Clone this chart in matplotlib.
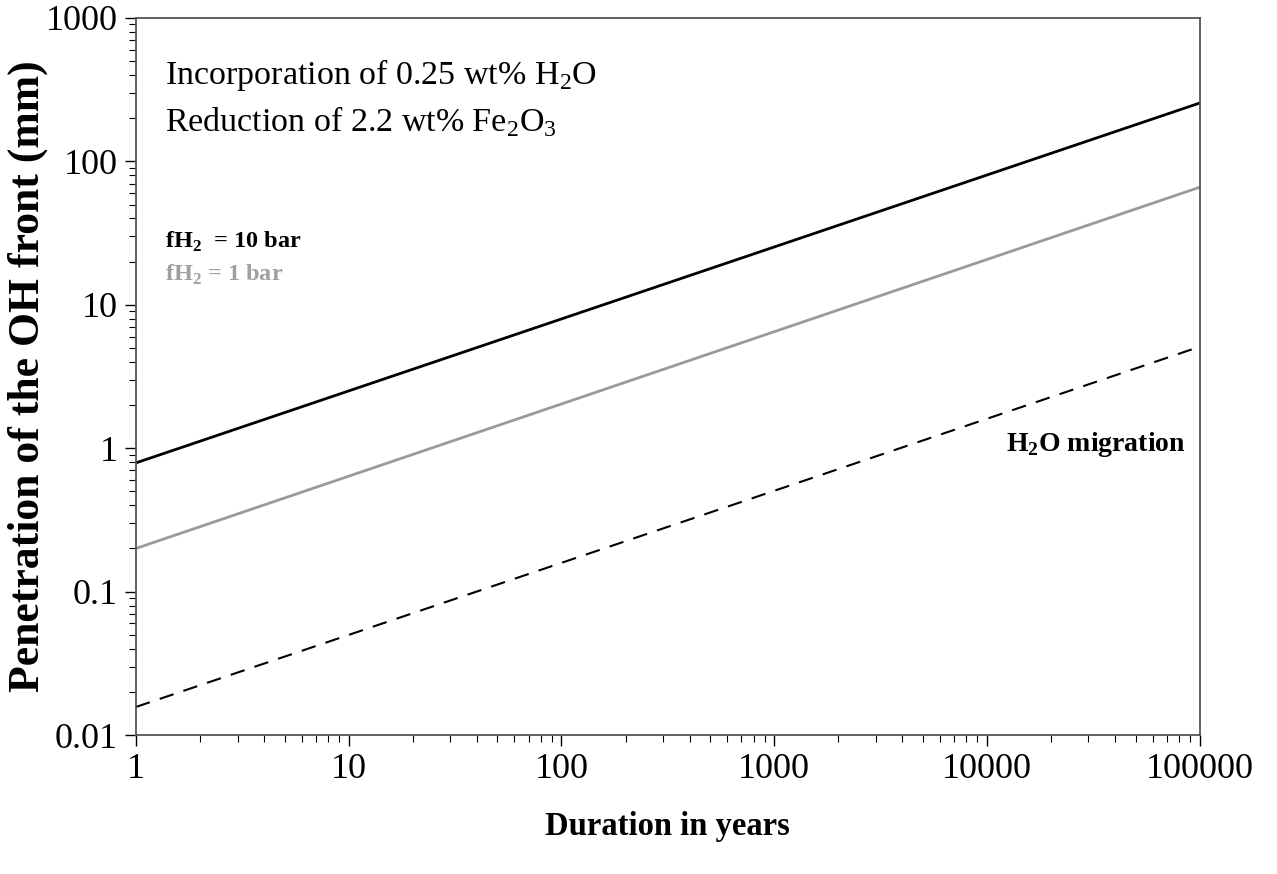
import matplotlib
matplotlib.use("Agg")
import matplotlib.pyplot as plt
from matplotlib.ticker import FixedLocator, FuncFormatter, LogLocator, NullFormatter

# penetration depth vs. time (mm), straight lines on log-log axes
years = [1, 100000]
fh2_10bar = [0.79, 255]
fh2_1bar = [0.20, 66]
h2o_migration = [0.0157, 5.1]

x_ticks = [1, 10, 100, 1000, 10000, 100000]
y_ticks = [0.01, 0.1, 1, 10, 100, 1000]

plt.rcParams['font.family'] = ['Liberation Serif', 'DejaVu Serif']
plt.rcParams['mathtext.fontset'] = 'custom'
plt.rcParams['mathtext.rm'] = 'Liberation Serif'
plt.rcParams['mathtext.bf'] = 'Liberation Serif:bold'

fig = plt.figure(figsize=(12.77, 8.74), dpi=100)
ax = fig.add_axes([0.1065, 0.159, 0.833, 0.8205])

ax.plot(years, fh2_10bar, color='black', lw=2.0)
ax.plot(years, fh2_1bar, color='#9a9a9a', lw=2.0)
ax.plot(years, h2o_migration, color='black', lw=1.5, dashes=(7, 5))

ax.set_xscale('log')
ax.set_yscale('log')
ax.set_xlim(1, 100000)
ax.set_ylim(0.01, 1000)

ax.xaxis.set_major_locator(FixedLocator(x_ticks))
ax.yaxis.set_major_locator(FixedLocator(y_ticks))
ax.xaxis.set_major_formatter(FuncFormatter(lambda v, pos: '%d' % round(v)))
ax.yaxis.set_major_formatter(FuncFormatter(lambda v, pos: '%g' % v))
ax.xaxis.set_minor_locator(LogLocator(base=10, subs=range(2, 10)))
ax.yaxis.set_minor_locator(LogLocator(base=10, subs=range(2, 10)))
ax.xaxis.set_minor_formatter(NullFormatter())
ax.yaxis.set_minor_formatter(NullFormatter())

ax.tick_params(which='major', direction='out', length=8, width=1.0, labelsize=26, pad=5)
ax.tick_params(which='minor', direction='out', length=5, width=0.8)
ax.tick_params(top=False, right=False)

for sp in ax.spines.values():
    sp.set_color('#555555')
    sp.set_linewidth(1.3)

ax.set_xlabel('Duration in years', fontsize=23.5, fontweight='bold', labelpad=18)
ax.set_ylabel('Penetration of the OH front (mm)', fontsize=31.5, fontweight='bold')
ax.yaxis.set_label_coords(-0.083, 0.5)

ax.text(0.027, 0.9205, r'Incorporation of 0.25 wt% H$_2$O', transform=ax.transAxes,
        fontsize=24.5, va='center', ha='left')
ax.text(0.027, 0.855, r'Reduction of 2.2 wt% Fe$_2$O$_3$', transform=ax.transAxes,
        fontsize=24.5, va='center', ha='left')
ax.text(0.027, 0.688, r'fH$_\mathbf{2}$  = 10 bar', transform=ax.transAxes,
        fontsize=17.5, fontweight='bold', va='center', ha='left')
ax.text(0.027, 0.642, r'fH$_\mathbf{2}$ = 1 bar', transform=ax.transAxes,
        fontsize=17.5, fontweight='bold', color='#a0a0a0', va='center', ha='left')
ax.text(0.8175, 0.405, r'H$_\mathbf{2}$O migration', transform=ax.transAxes,
        fontsize=20, fontweight='bold', va='center', ha='left')

fig.savefig('out.png', dpi=100)
